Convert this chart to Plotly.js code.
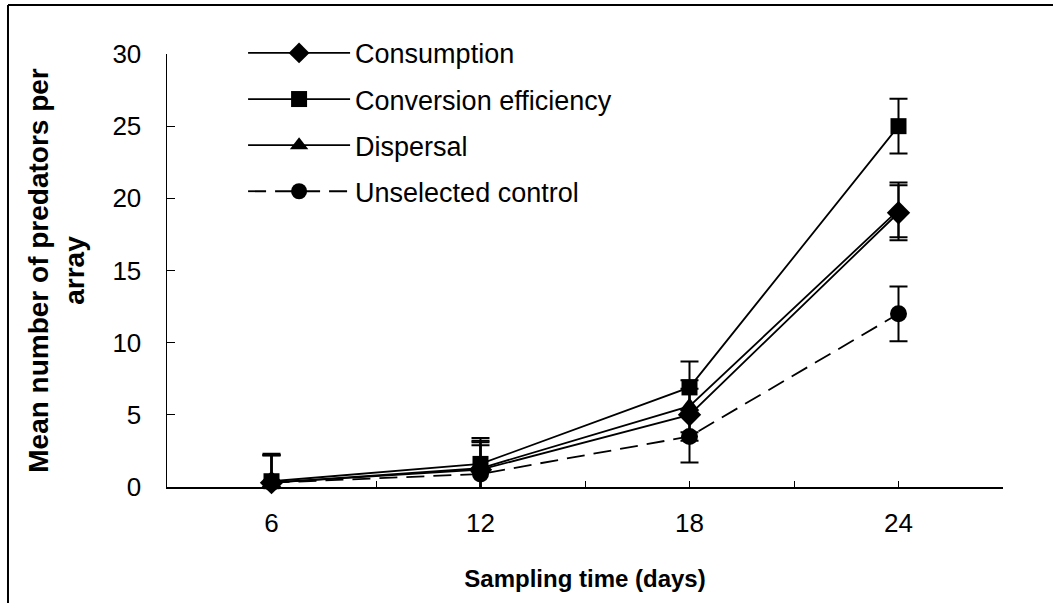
<!DOCTYPE html>
<html>
<head>
<meta charset="utf-8">
<script src="https://cdn.plot.ly/plotly-3.0.1.min.js"></script>
<style>html,body{margin:0;padding:0;background:#fff;}#chart{width:1053px;height:603px;}</style>
</head>
<body>
<div id="chart"></div>
<script>
// Sampling times (days)
const days = [6, 12, 18, 24];

// Series means
const consumption = [0.3, 1.2, 5.0, 19.0];
const conversion  = [0.4, 1.6, 6.9, 25.0];
const dispersal   = [0.3, 1.3, 5.6, 19.2];
const control     = [0.3, 0.9, 3.5, 12.0];

// Error bar half-lengths
const consumptionErr = [1.9, 1.9, 1.8, 1.9];
const conversionErr  = [1.9, 1.8, 1.8, 1.9];
const dispersalErr   = [1.9, 1.9, 1.8, 1.9];
const controlErr     = [1.9, 2.0, 1.8, 1.9];

// Series names
const names = ["Consumption", "Conversion efficiency", "Dispersal", "Unselected control"];

// Axis tick positions / labels
const xTickVals = [3, 6, 9, 12, 15, 18, 21, 24, 27];
const xTickText = ["", "6", "", "12", "", "18", "", "24", ""];
const yTickVals = [0, 5, 10, 15, 20, 25, 30];

const FONT = "Liberation Sans, Arial, sans-serif";

function series(name, y, err, symbol, size, dash, grp) {
  return {
    type: "scatter", mode: "lines+markers", name: name, x: days, y: y,
    legendgroup: grp, cliponaxis: false,
    line: {color: "#000", width: 1.8, dash: dash},
    marker: {color: "#000", symbol: symbol, size: size},
    error_y: {type: "data", array: err, visible: true, color: "#000", thickness: 2, width: 9}
  };
}

const traces = [
  series(names[0], consumption, consumptionErr, "diamond", 18, "solid", "g1"),
  series(names[1], conversion, conversionErr, "square", 16, "solid", "g2"),
  series(names[2], dispersal, dispersalErr, "triangle-up", 17, "solid", "g3"),
  series(names[3], control, controlErr, "circle", 17, "18px,9px", "g4")
];

const layout = {
  width: 1053, height: 603,
  margin: {l: 167, r: 50, t: 54, b: 116, pad: 0},
  paper_bgcolor: "#fff", plot_bgcolor: "#fff",
  font: {family: FONT, color: "#000", size: 22},
  showlegend: true,
  legend: {
    x: 0.091, xanchor: "left", y: 1.058, yanchor: "top",
    bgcolor: "rgba(0,0,0,0)", borderwidth: 0,
    font: {family: FONT, size: 27, color: "#000"},
    itemwidth: 102, tracegroupgap: 8, traceorder: "grouped"
  },
  xaxis: {
    range: [3, 27], tickmode: "array", tickvals: xTickVals, ticktext: xTickText,
    ticks: "inside", ticklen: 6, tickwidth: 1, tickcolor: "#000",
    showline: true, linecolor: "#000", linewidth: 1.5, mirror: false,
    showgrid: false, zeroline: false, ticklabelstandoff: 12,
    tickfont: {family: FONT, size: 26, color: "#000"},
    title: {text: "<b>Sampling time (days)</b>", font: {family: FONT, size: 24, color: "#000"}, standoff: 33},
    automargin: false, fixedrange: true
  },
  yaxis: {
    range: [0, 30], tickmode: "array", tickvals: yTickVals,
    ticks: "inside", ticklen: 8, tickwidth: 1, tickcolor: "#000",
    showline: true, linecolor: "#000", linewidth: 1.5,
    showgrid: false, zeroline: false, ticklabelstandoff: 19,
    tickfont: {family: FONT, size: 26, color: "#000"},
    title: {text: "<b>Mean number of predators per<br>array</b>", font: {family: FONT, size: 28, color: "#000"}, standoff: 19},
    automargin: false, fixedrange: true
  },
  shapes: [
    {type: "line", xref: "paper", yref: "paper", x0: -0.1902, x1: 1.1, y0: 1.1132, y1: 1.1132, line: {color: "#000", width: 2}},
    {type: "line", xref: "paper", yref: "paper", x0: -0.1902, x1: -0.1902, y0: 1.1132, y1: -0.3, line: {color: "#000", width: 2}}
  ]
};

Plotly.newPlot("chart", traces, layout, {displayModeBar: false, staticPlot: true});
</script>
</body>
</html>
